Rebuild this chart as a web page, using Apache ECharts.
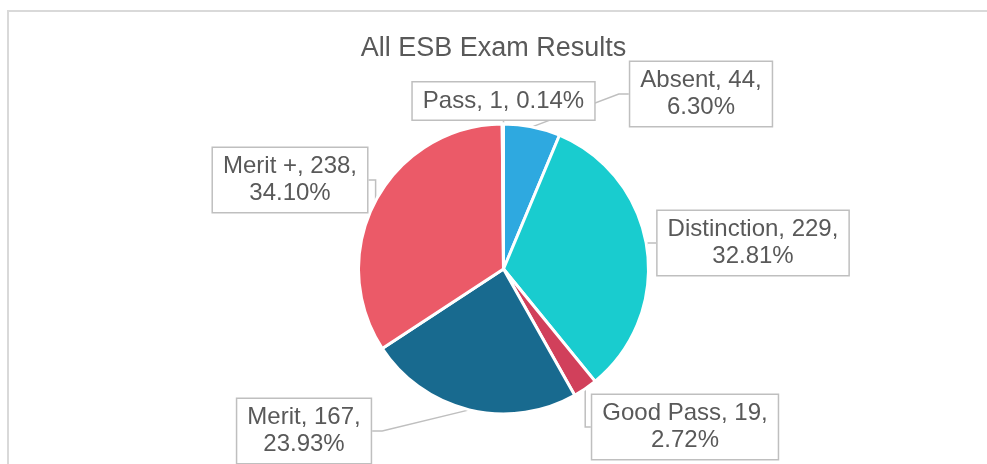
<!DOCTYPE html>
<html>
<head>
<meta charset="utf-8">
<script src="https://cdn.jsdelivr.net/npm/echarts@6/dist/echarts.min.js"></script>
<style>
html,body{margin:0;padding:0;background:#fff;}
#c{width:987px;height:464px;}
</style>
</head>
<body>
<div id="c"></div>
<script>
const categories = ['Absent', 'Distinction', 'Good Pass', 'Merit', 'Merit +', 'Pass'];
const values = [44, 229, 19, 167, 238, 1];
const colors = ['#2EA9E0', '#19CCCF', '#D1405B', '#186A8F', '#EB5A68', '#F2B544'];
const titleText = 'All ESB Exam Results';
// label box centres (annotation placement)
const labelCenters = [[701, 94], [753, 243], [685, 427], [304, 431], [290, 180], [503.5, 101]];
const singleLine = ['Pass'];

const chart = echarts.init(document.getElementById('c'), null, {renderer: 'canvas'});
const FONT = '"Liberation Sans", Arial, sans-serif';

chart.setOption({
  backgroundColor: '#ffffff',
  animation: false,
  graphic: [{
    type: 'rect', z: -10, silent: true,
    shape: {x: 8, y: 11, width: 1100, height: 600},
    style: {fill: '#ffffff', stroke: '#D9D9D9', lineWidth: 2}
  }],
  title: {
    text: titleText,
    left: 'center',
    top: 35,
    padding: 0,
    textStyle: {color: '#595959', fontSize: 27, fontWeight: 'normal', fontFamily: FONT, lineHeight: 27}
  },
  series: [{
    type: 'pie',
    center: [503.5, 269],
    radius: 145,
    startAngle: 90,
    clockwise: true,
    avoidLabelOverlap: false,
    itemStyle: {borderColor: '#ffffff', borderWidth: 3},
    data: categories.map((n, i) => ({name: n, value: values[i], itemStyle: {color: colors[i]}})),
    label: {
      show: true,
      position: 'outside',
      color: '#595959',
      fontSize: 24,
      lineHeight: 27,
      fontFamily: FONT,
      align: 'center',
      backgroundColor: '#ffffff',
      borderColor: '#BFBFBF',
      borderWidth: 1.5,
      padding: [5, 10],
      formatter: p => {
        const pct = p.percent.toFixed(2) + '%';
        return singleLine.includes(p.name)
          ? `${p.name}, ${p.value}, ${pct}`
          : `${p.name}, ${p.value},\n${pct}`;
      }
    },
    labelLine: {show: true, lineStyle: {color: '#BFBFBF', width: 1.5}, length: 10, length2: 10},
    labelLayout: params => {
      const c = labelCenters[params.dataIndex];
      return {x: c[0], y: c[1], align: 'center', verticalAlign: 'middle'};
    },
    emphasis: {disabled: true}
  }]
});
</script>
</body>
</html>
